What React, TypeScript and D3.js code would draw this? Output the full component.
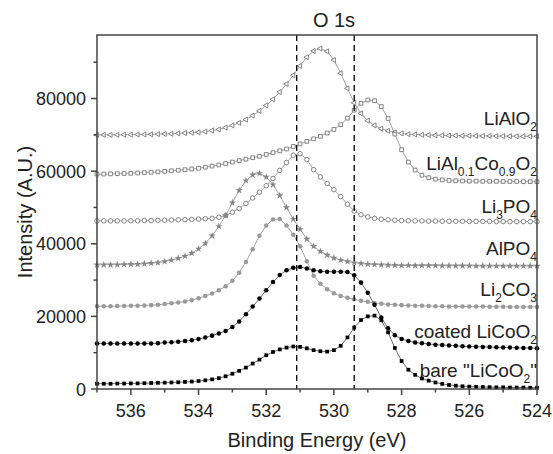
import React from "react";
import * as d3 from "d3";

// binding energy grid (eV), 0.2 eV steps
const energies = [
  537.0, 536.8, 536.6, 536.4, 536.2, 536.0, 535.8, 535.6, 535.4, 535.2, 535.0,
  534.8, 534.6, 534.4, 534.2, 534.0, 533.8, 533.6, 533.4, 533.2, 533.0, 532.8,
  532.6, 532.4, 532.2, 532.0, 531.8, 531.6, 531.4, 531.2, 531.0, 530.8, 530.6,
  530.4, 530.2, 530.0, 529.8, 529.6, 529.4, 529.2, 529.0, 528.8, 528.6, 528.4,
  528.2, 528.0, 527.8, 527.6, 527.4, 527.2, 527.0, 526.8, 526.6, 526.4, 526.2,
  526.0, 525.8, 525.6, 525.4, 525.2, 525.0, 524.8, 524.6, 524.4, 524.2, 524.0,
];

const liAlO2 = [
  70000, 70000, 70000, 70000, 70050, 70050, 70100, 70100, 70150, 70200, 70250,
  70300, 70400, 70500, 70600, 70700, 70900, 71200, 71500, 72000, 72600, 73300,
  74200, 75300, 76600, 78100, 79800, 81800, 84000, 86400, 89000, 91400, 93100,
  93800, 93000, 90600, 87000, 82800, 78800, 75900, 73900, 72600, 71700, 71100,
  70700, 70400, 70200, 70100, 70000, 69950, 69900, 69850, 69800, 69800, 69750,
  69750, 69700, 69700, 69700, 69650, 69650, 69650, 69600, 69600, 69600, 69600,
];

const liAlCoO2 = [
  59200, 59200, 59250, 59300, 59350, 59400, 59500, 59600, 59700, 59800, 59950,
  60100, 60250, 60400, 60600, 60800, 61100, 61400, 61700, 62100, 62500, 62900,
  63300, 63700, 64100, 64600, 65100, 65600, 66100, 66800, 67500, 68200, 68900,
  69600, 70500, 71500, 72800, 74600, 76800, 78700, 79600, 79400, 77800, 74500,
  70200, 65900, 62500, 60300, 58900, 58200, 57800, 57600, 57450, 57350, 57300,
  57250, 57250, 57200, 57200, 57200, 57150, 57150, 57150, 57100, 57100, 57100,
];

const li3PO4 = [
  46300, 46300, 46300, 46300, 46300, 46350, 46350, 46400, 46400, 46450, 46500,
  46550, 46600, 46650, 46700, 46800, 46900, 47000, 47300, 47800, 48700, 49700,
  51100, 52600, 54200, 56000, 58000, 60200, 62400, 64400, 64800, 63200, 60400,
  58400, 56600, 54900, 53000, 50900, 49000, 48000, 47400, 47000, 46750, 46600,
  46500, 46400, 46350, 46300, 46300, 46250, 46250, 46200, 46200, 46200, 46200,
  46150, 46150, 46150, 46150, 46100, 46100, 46100, 46100, 46100, 46100, 46100,
];

const alPO4 = [
  34200, 34200, 34200, 34250, 34300, 34350, 34400, 34500, 34650, 34800, 35100,
  35500, 36000, 36600, 37400, 38600, 40100, 42200, 44800, 47800, 51300, 54700,
  57400, 59000, 59400, 58400, 56300, 53300, 50000, 46800, 44000, 41300, 39300,
  37900, 36900, 36100, 35500, 35100, 34800, 34550, 34400, 34300, 34200, 34150,
  34100, 34050, 34050, 34000, 34000, 34000, 34000, 33950, 33950, 33950, 33950,
  33950, 33900, 33900, 33900, 33900, 33900, 33900, 33900, 33900, 33900, 33900,
];

const li2CO3 = [
  22800, 22800, 22800, 22850, 22850, 22900, 22950, 23000, 23100, 23200, 23400,
  23600, 23800, 24100, 24500, 25000, 25600, 26300, 27200, 28300, 29800, 32000,
  35000, 38500, 42200, 45000, 46700, 46800, 45000, 42500, 39300, 35200, 31200,
  29000, 27500, 26400, 25600, 25100, 24700, 24300, 24000, 23700, 23500, 23300,
  23200, 23100, 23000, 22950, 22900, 22850, 22800, 22800, 22750, 22750, 22700,
  22700, 22700, 22700, 22650, 22650, 22650, 22600, 22600, 22600, 22600, 22600,
];

const coatedLiCoO2 = [
  12500, 12500, 12500, 12500, 12500, 12500, 12500, 12500, 12550, 12600, 12800,
  12900, 13000, 13200, 13400, 13800, 14200, 14700, 15300, 16000, 17100, 18600,
  20600, 22700, 24900, 27200, 29500, 31400, 32700, 33400, 33600, 33200, 32700,
  32400, 32300, 32300, 32300, 32200, 31300, 29300, 26500, 23200, 19700, 16700,
  14800, 13800, 13200, 12800, 12600, 12400, 12200, 12100, 12000, 11900, 11800,
  11700, 11650, 11600, 11550, 11500, 11450, 11400, 11350, 11300, 11300, 11250,
];

const bareLiCoO2 = [
  1450, 1450, 1450, 1500, 1500, 1550, 1550, 1600, 1650, 1700, 1750,
  1800, 1850, 1950, 2050, 2200, 2400, 2650, 3000, 3500, 4200, 5000,
  5900, 7000, 8100, 9300, 10200, 10900, 11400, 11700, 11600, 11200, 10700,
  10400, 10300, 10700, 11900, 14200, 16900, 19000, 20000, 20200, 18900, 15600,
  11300, 7700, 5300, 3900, 2900, 2300, 1800, 1400, 1100, 900, 750,
  650, 600, 550, 500, 450, 450, 400, 400, 400, 350, 350,
];

const peakLines = [531.1, 529.4];
const xTicks = [536, 534, 532, 530, 528, 526, 524];
const xMinorTicks = [537, 535, 533, 531, 529, 527, 525];
const yTicks = [0, 20000, 40000, 60000, 80000];
const yMinorTicks = [10000, 30000, 50000, 70000, 90000];

type Part = { t: string; sub?: boolean };

const series = [
  { name: "LiAlO2", values: liAlO2, marker: "tri", color: "#777", fill: "#fff", labelY: 125,
    label: [{ t: "LiAlO" }, { t: "2", sub: true }] as Part[] },
  { name: "LiAl0.1Co0.9O2", values: liAlCoO2, marker: "square", color: "#777", fill: "#fff", labelY: 170,
    label: [{ t: "LiAl" }, { t: "0.1", sub: true }, { t: "Co" }, { t: "0.9", sub: true }, { t: "O" }, { t: "2", sub: true }] as Part[] },
  { name: "Li3PO4", values: li3PO4, marker: "circle", color: "#777", fill: "#fff", labelY: 213,
    label: [{ t: "Li" }, { t: "3", sub: true }, { t: "PO" }, { t: "4", sub: true }] as Part[] },
  { name: "AlPO4", values: alPO4, marker: "star", color: "#858585", fill: "#858585", labelY: 255,
    label: [{ t: "AlPO" }, { t: "4", sub: true }] as Part[] },
  { name: "Li2CO3", values: li2CO3, marker: "dot", color: "#9a9a9a", fill: "#9a9a9a", labelY: 296,
    label: [{ t: "Li" }, { t: "2", sub: true }, { t: "CO" }, { t: "3", sub: true }] as Part[] },
  { name: "coated LiCoO2", values: coatedLiCoO2, marker: "dot", color: "#000", fill: "#000", labelY: 338,
    label: [{ t: "coated LiCoO" }, { t: "2", sub: true }] as Part[] },
  { name: "bare LiCoO2", values: bareLiCoO2, marker: "square", color: "#000", fill: "#000", labelY: 377,
    label: [{ t: "bare \"LiCoO" }, { t: "2", sub: true }, { t: "\"" }] as Part[] },
];

const W = 553;
const H = 454;
const margin = { left: 97, right: 16, top: 35, bottom: 65 };
const font = "Arial, 'Liberation Sans', sans-serif";

const symbolFor = (m: string) => {
  if (m === "tri") return d3.symbol().type(d3.symbolTriangle).size(11)();
  if (m === "square") return d3.symbol().type(d3.symbolSquare).size(14)();
  if (m === "star") return d3.symbol().type(d3.symbolStar).size(17)();
  if (m === "circle") return d3.symbol().type(d3.symbolCircle).size(16)();
  return d3.symbol().type(d3.symbolCircle).size(16)();
};

const Label = ({ parts, y }: { parts: Part[]; y: number }) => {
  const spans: any[] = [];
  let down = false;
  parts.forEach((p, i) => {
    let dy = 0;
    if (p.sub && !down) { dy = 6; down = true; }
    else if (!p.sub && down) { dy = -6; down = false; }
    spans.push(
      <tspan key={i} dy={dy} fontSize={p.sub ? 12 : 19}>{p.t}</tspan>
    );
  });
  return (
    <text x={W - margin.right} y={y} textAnchor="end" fontFamily={font} fill="#222">
      {spans}
    </text>
  );
};

export default function App() {
  const x = d3.scaleLinear().domain([537, 524]).range([margin.left, W - margin.right]);
  const y = d3.scaleLinear().domain([0, 97500]).range([H - margin.bottom, margin.top]);
  const line = d3.line<[number, number]>().x((d) => x(d[0])).y((d) => y(d[1]));
  const x0 = margin.left, x1 = W - margin.right, y0 = H - margin.bottom, y1 = margin.top;

  return (
    <svg width={W} height={H} style={{ position: "absolute", left: 0, top: 0, background: "#fff" }}>
      <rect width={W} height={H} fill="#fff" />

      {/* curves */}
      {series.map((s) => {
        const pts = energies.map((e, i) => [e, s.values[i]] as [number, number]);
        const sym = symbolFor(s.marker);
        const rot = s.marker === "tri" ? -90 : 0;
        return (
          <g key={s.name}>
            <path d={line(pts) || ""} fill="none" stroke={s.fill === "#000" ? "#444" : "#8a8a8a"} strokeWidth={0.8} />
            {pts.map((p, i) => (
              <path
                key={i}
                d={sym || ""}
                transform={`translate(${x(p[0])},${y(p[1])}) rotate(${rot})`}
                fill={s.fill}
                stroke={s.color}
                strokeWidth={s.fill === "#fff" ? 0.9 : 0}
              />
            ))}
          </g>
        );
      })}

      {/* peak position guides */}
      {peakLines.map((e) => (
        <line key={e} x1={x(e)} x2={x(e)} y1={y1} y2={y0} stroke="#111" strokeWidth={1.4} strokeDasharray="6,4" />
      ))}

      {/* frame */}
      <rect x={x0} y={y1} width={x1 - x0} height={y0 - y1} fill="none" stroke="#444" strokeWidth={1.5} />

      {/* x axis ticks */}
      {xTicks.map((t) => (
        <g key={t}>
          <line x1={x(t)} x2={x(t)} y1={y0} y2={y0 + 6} stroke="#444" strokeWidth={1.5} />
          <text x={x(t)} y={y0 + 28} textAnchor="middle" fontFamily={font} fontSize={18} fill="#222">{t}</text>
        </g>
      ))}
      {xMinorTicks.map((t) => (
        <line key={t} x1={x(t)} x2={x(t)} y1={y0} y2={y0 + 3.5} stroke="#444" strokeWidth={1.5} />
      ))}

      {/* y axis ticks */}
      {yTicks.map((t) => (
        <g key={t}>
          <line x1={x0 - 6} x2={x0} y1={y(t)} y2={y(t)} stroke="#444" strokeWidth={1.5} />
          <text x={x0 - 11} y={y(t) + 6.5} textAnchor="end" fontFamily={font} fontSize={18} fill="#222">{t}</text>
        </g>
      ))}
      {yMinorTicks.map((t) => (
        <line key={t} x1={x0 - 3.5} x2={x0} y1={y(t)} y2={y(t)} stroke="#444" strokeWidth={1.5} />
      ))}

      {/* series labels */}
      {series.map((s) => (
        <Label key={s.name} parts={s.label} y={s.labelY} />
      ))}

      {/* titles */}
      <text x={334} y={27} textAnchor="middle" fontFamily={font} fontSize={20} fill="#222">O 1s</text>
      <text x={(x0 + x1) / 2} y={447} textAnchor="middle" fontFamily={font} fontSize={20} fill="#222">Binding Energy (eV)</text>
      <text transform={`translate(32,${(y0 + y1) / 2}) rotate(-90)`} textAnchor="middle" fontFamily={font} fontSize={20} fill="#222">
        Intensity (A.U.)
      </text>
    </svg>
  );
}
